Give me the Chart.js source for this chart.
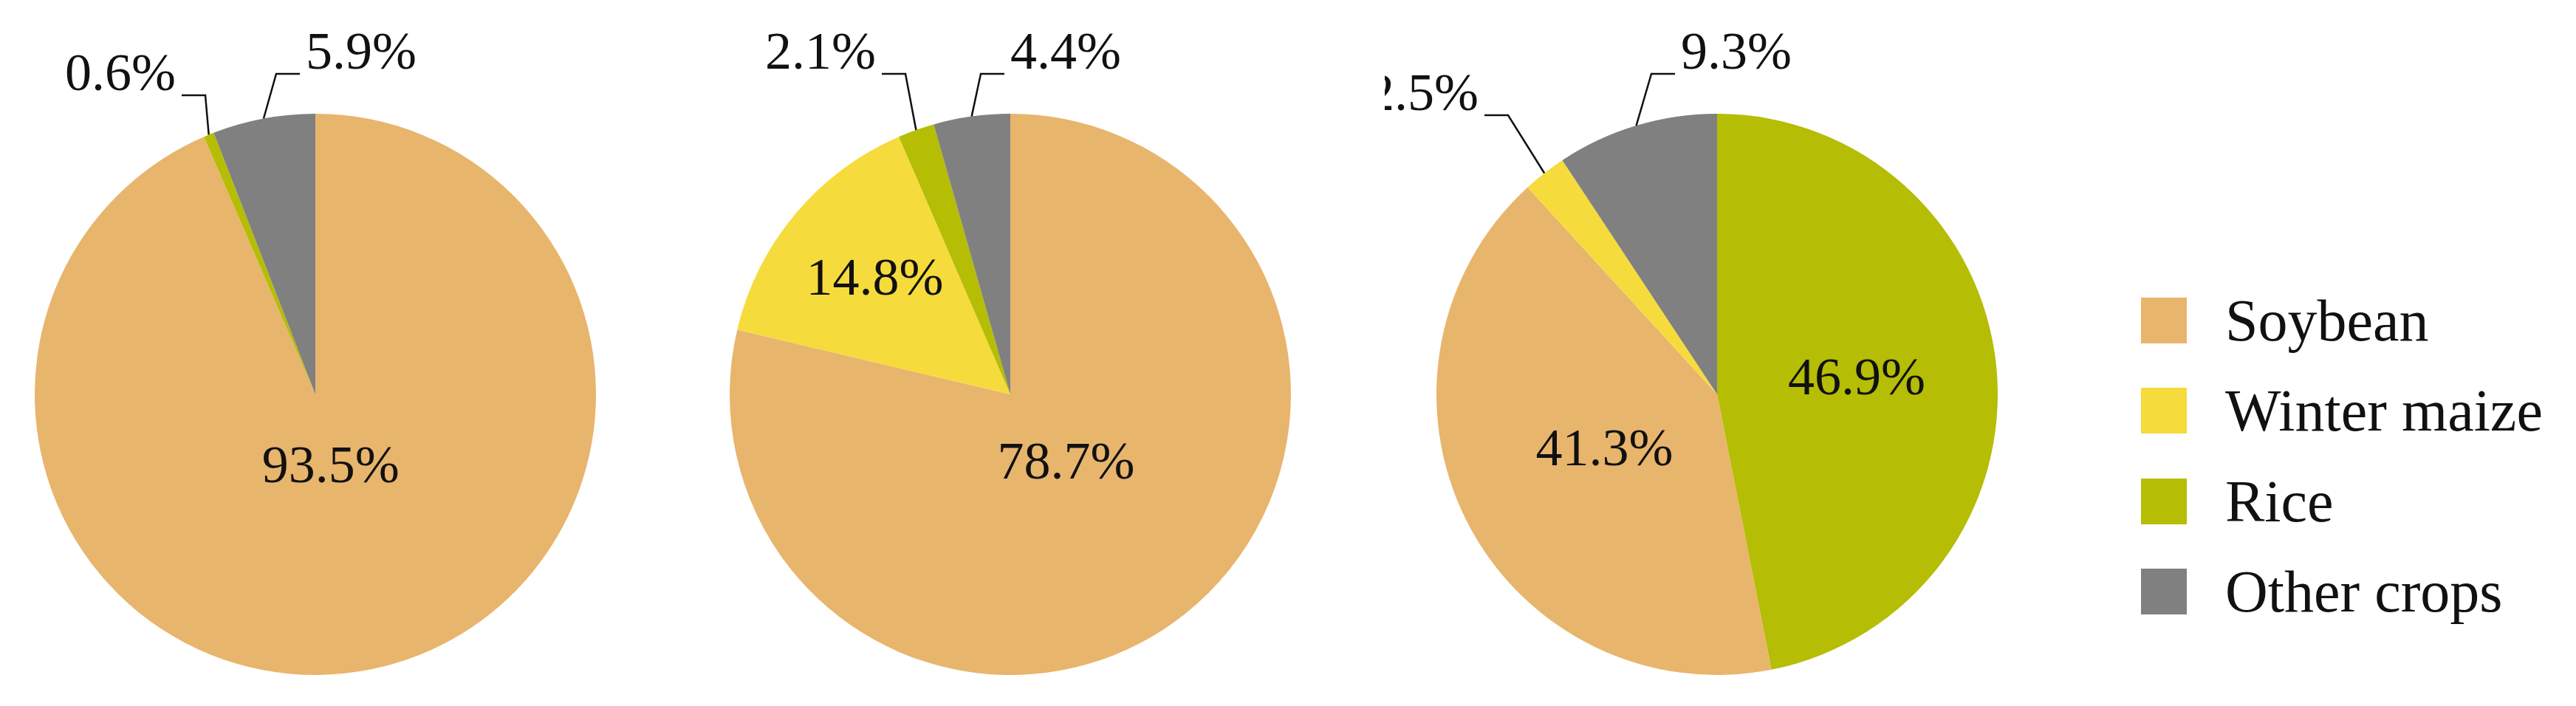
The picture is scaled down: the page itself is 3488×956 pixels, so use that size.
<!DOCTYPE html>
<html>
<head>
<meta charset="utf-8">
<script src="https://cdn.jsdelivr.net/npm/chart.js@4"></script>
<style>
  body { margin: 0; background: #fff; width: 3488px; height: 956px; overflow: hidden; position: relative; font-family: "Liberation Serif", serif; }
  .pie { position: absolute; top: 0; width: 900px; height: 956px; }
  #legend { position: absolute; left: 2899px; top: 0; }
  .item { position: absolute; left: 0; width: 580px; height: 62px; font-size: 80px; color: #111; white-space: nowrap; }
  .item span.sw { position: absolute; left: 0; top: 0; width: 62px; height: 62px; }
  .item span.tx { position: absolute; left: 114px; top: 50%; transform: translateY(-50%); line-height: 1; }
</style>
</head>
<body>
<div class="pie" style="left:-23px"><canvas id="c1"></canvas></div>
<div class="pie" style="left:918px"><canvas id="c2"></canvas></div>
<div class="pie" style="left:1875px"><canvas id="c3"></canvas></div>
<div id="legend"></div>
<script>
// crop names and colours (legend order)
var crops = ["Soybean", "Winter maize", "Rice", "Other crops"];
var cropColors = ["#E8B56D", "#F6DB3C", "#B5BD05", "#808080"];

// each pie, slices clockwise from 12 o'clock
var pie1Crops = ["Soybean", "Winter maize", "Rice", "Other crops"];
var pie1Values = [93.5, 0, 0.6, 5.9];
var pie2Crops = ["Soybean", "Winter maize", "Rice", "Other crops"];
var pie2Values = [78.7, 14.8, 2.1, 4.4];
var pie3Crops = ["Rice", "Soybean", "Winter maize", "Other crops"];
var pie3Values = [46.9, 41.3, 2.5, 9.3];

// how each label is placed: inside at a radius fraction, or outside with an elbow leader
var pie1Labels = [{ r: 0.27 }, null, { ex: -149, ey: -405, side: -1 }, { ex: -53, ey: -434, side: 1 }];
var pie2Labels = [{ r: 0.32 }, { r: 0.63 }, { ex: -142, ey: -434, side: -1 }, { ex: -40, ey: -434, side: 1 }];
var pie3Labels = [{ r: 0.5 }, { r: 0.45 }, { ex: -283, ey: -378, side: -1 }, { ex: -89, ey: -434, side: 1 }];

var labelPlugin = {
    id: "sliceLabels",
    afterDatasetsDraw: function(chart) {
        var ctx = chart.ctx;
        var meta = chart.getDatasetMeta(0);
        var values = chart.data.datasets[0].data;
        var specs = chart.options.plugins.sliceLabels.specs;
        ctx.save();
        ctx.font = "72px 'Liberation Serif'";
        ctx.fillStyle = "#111";
        ctx.strokeStyle = "#111";
        ctx.lineWidth = 2.5;
        meta.data.forEach(function(arc, i) {
            var spec = specs[i];
            if (!spec) return;
            var p = arc.getProps(["x", "y", "startAngle", "endAngle", "outerRadius"], true);
            var mid = (p.startAngle + p.endAngle) / 2;
            var text = values[i].toFixed(1) + "%";
            if (spec.r) {
                ctx.textAlign = "center";
                ctx.textBaseline = "middle";
                ctx.fillText(text, p.x + Math.cos(mid) * p.outerRadius * spec.r, p.y + Math.sin(mid) * p.outerRadius * spec.r);
            } else {
                var sx = p.x + Math.cos(mid) * p.outerRadius;
                var sy = p.y + Math.sin(mid) * p.outerRadius;
                var ex = p.x + spec.ex, ey = p.y + spec.ey;
                var tx = ex + spec.side * 32;
                ctx.beginPath();
                ctx.moveTo(sx, sy);
                ctx.lineTo(ex, ey);
                ctx.lineTo(tx, ey);
                ctx.stroke();
                ctx.textAlign = spec.side < 0 ? "right" : "left";
                ctx.textBaseline = "middle";
                ctx.fillText(text, tx + spec.side * 8, ey - 26);
            }
        });
        ctx.restore();
    }
};

function makePie(id, names, values, specs) {
    new Chart(document.getElementById(id), {
        type: "pie",
        data: {
            labels: names,
            datasets: [{
                data: values,
                backgroundColor: names.map(function(n) { return cropColors[crops.indexOf(n)]; }),
                borderWidth: 0
            }]
        },
        options: {
            responsive: true,
            maintainAspectRatio: false,
            animation: false,
            layout: { padding: { top: 154, bottom: 42, left: 70, right: 70 } },
            plugins: {
                legend: { display: false },
                tooltip: { enabled: false },
                sliceLabels: { specs: specs }
            }
        },
        plugins: [labelPlugin]
    });
}

makePie("c1", pie1Crops, pie1Values, pie1Labels);
makePie("c2", pie2Crops, pie2Values, pie2Labels);
makePie("c3", pie3Crops, pie3Values, pie3Labels);

// legend
var legendTops = [403, 525, 648, 770];
var legend = document.getElementById("legend");
crops.forEach(function(name, i) {
    var d = document.createElement("div");
    d.className = "item";
    d.style.top = legendTops[i] + "px";
    d.innerHTML = '<span class="sw" style="background:' + cropColors[i] + '"></span><span class="tx">' + name + '</span>';
    legend.appendChild(d);
});
</script>
</body>
</html>
